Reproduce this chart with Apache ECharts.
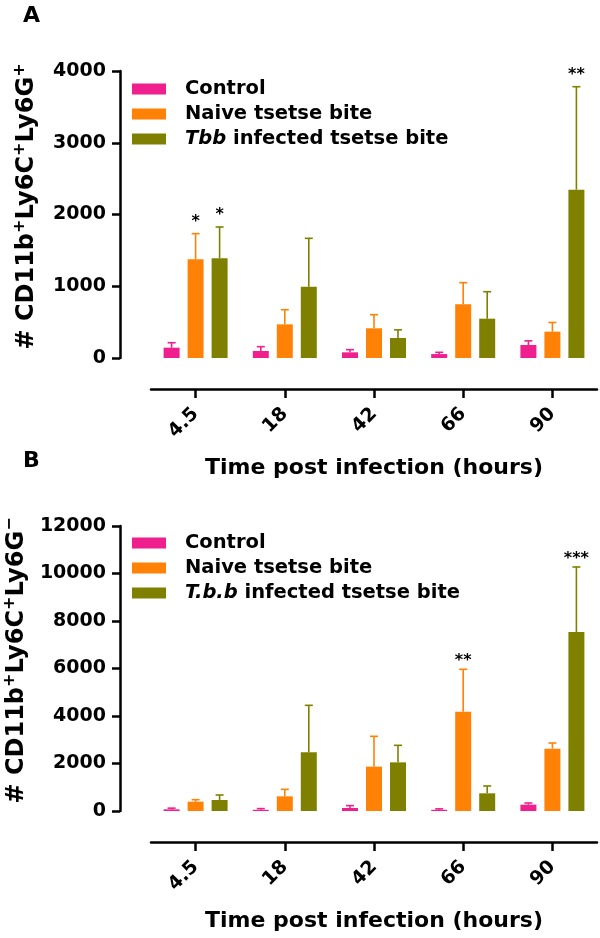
<!DOCTYPE html>
<html>
<head>
<meta charset="utf-8">
<script src="https://cdn.jsdelivr.net/npm/echarts@6/dist/echarts.min.js"></script>
<style>
  html, body { margin: 0; padding: 0; background: #fff; }
  #chart_container { width: 600px; height: 938px; }
</style>
</head>
<body>
<div id="chart_container"></div>
<script>
// categories
const hours = ['4.5', '18', '42', '66', '90']

// panel A: CD11b+Ly6C+Ly6G+
const ctrlA = [144, 98, 79, 55, 181]
const ctrlErrA = [69, 60, 37, 24, 58]
const naiveA = [1375, 469, 414, 748, 367]
const naiveErrA = [358, 204, 190, 302, 128]
const tbbA = [1390, 994, 279, 548, 2346]
const tbbErrA = [436, 674, 113, 376, 1435]
const starsCtrlA = ['', '', '', '', '']
const starsNaiveA = ['*', '', '', '', '']
const starsTbbA = ['*', '', '', '', '**']

// panel B: CD11b+Ly6C+Ly6G-
const ctrlB = [70, 50, 126, 50, 267]
const ctrlErrB = [50, 50, 100, 40, 70]
const naiveB = [393, 617, 1867, 4183, 2625]
const naiveErrB = [83, 295, 1277, 1783, 238]
const tbbB = [463, 2470, 2049, 744, 7537]
const tbbErrB = [211, 1979, 716, 309, 2737]
const starsCtrlB = ['', '', '', '', '']
const starsNaiveB = ['', '', '', '**', '']
const starsTbbB = ['', '', '', '', '***']

const namesA = ['Control', 'Naive tsetse bite', 'Tbb infected tsetse bite']
const namesB = ['Control', 'Naive tsetse bite', 'T.b.b infected tsetse bite']

const colors = ['#ef1f8e', '#ff8106', '#808000']
const FONT = 'DejaVu Sans'

document.addEventListener('DOMContentLoaded', buildChart)

//bar + error bar helpers
function makeBars(name, values, color, idx){
    return {
        name: name,
        type: 'bar',
        xAxisIndex: idx,
        yAxisIndex: idx,
        barWidth: 16,
        barGap: '50%',
        data: values,
        itemStyle: { color: color },
        z: 2
    }
}

function makeErr(values, errs, stars, color, idx, offset, starGap){
    let data = values.map((v, i) => [i, v, errs[i]])
    return {
        type: 'custom',
        xAxisIndex: idx,
        yAxisIndex: idx,
        z: 3,
        silent: true,
        data: data,
        renderItem: function(params, api){
            let i = api.value(0)
            let mean = api.value(1)
            let err = api.value(2)
            let base = api.coord([i, mean])
            let top = api.coord([i, mean + err])
            let x = base[0] + offset
            let children = [
                { type: 'line', shape: { x1: x, y1: base[1], x2: x, y2: top[1] },
                  style: { stroke: color, lineWidth: 1.6 } },
                { type: 'line', shape: { x1: x - 4, y1: top[1], x2: x + 4, y2: top[1] },
                  style: { stroke: color, lineWidth: 1.6 } }
            ]
            let s = stars[params.dataIndex]
            if (s){
                children.push({
                    type: 'text',
                    style: {
                        text: s, x: x, y: top[1] - starGap,
                        align: 'center', verticalAlign: 'bottom',
                        fontSize: 16, fontWeight: 'bold', fontFamily: FONT, fill: '#000'
                    }
                })
            }
            return { type: 'group', children: children }
        }
    }
}

function legendFormatter(name){
    if (name.indexOf('Tbb') === 0) return '{it|Tbb}{n| infected tsetse bite}'
    if (name.indexOf('T.b.b') === 0) return '{it|T.b.b}{n| infected tsetse bite}'
    return '{n|' + name + '}'
}

function makeLegend(names, top){
    return {
        data: names,
        orient: 'vertical',
        left: 127,
        top: top,
        icon: 'rect',
        itemWidth: 34,
        itemHeight: 11,
        itemGap: 5,
        selectedMode: false,
        formatter: legendFormatter,
        textStyle: {
            padding: [0, 0, 0, 14],
            rich: {
                n: { fontSize: 19.5, fontWeight: 'bold', fontFamily: FONT, color: '#000' },
                it: { fontSize: 19.5, fontWeight: 'bold', fontStyle: 'italic', fontFamily: FONT, color: '#000' }
            }
        }
    }
}

function makeXAxis(idx){
    return {
        type: 'category',
        gridIndex: idx,
        data: hours,
        offset: 31,
        name: 'Time post infection (hours)',
        nameLocation: 'middle',
        nameGap: 68,
        nameTextStyle: { fontSize: 22, fontWeight: 'bold', fontFamily: FONT, color: '#000' },
        axisLine: { onZero: false, lineStyle: { color: '#000', width: 2.5 } },
        axisTick: { show: true, alignWithLabel: true, length: 9, lineStyle: { color: '#000', width: 2.5 } },
        axisLabel: { rotate: 45, margin: 22, fontSize: 19, fontWeight: 'bold', fontFamily: FONT, color: '#000' },
        splitLine: { show: false }
    }
}

function makeYAxis(idx, max, interval, name){
    return {
        type: 'value',
        gridIndex: idx,
        min: 0,
        max: max,
        interval: interval,
        offset: 31,
        name: name,
        nameLocation: 'middle',
        nameGap: 78,
        nameTextStyle: {
            fontSize: 24, fontWeight: 'bold', fontFamily: FONT, color: '#000',
            padding: [0, 0, 0, 16],
            rich: {
                n: { fontSize: 24, fontWeight: 'bold', fontFamily: FONT, color: '#000', lineHeight: 30 },
                s: { fontSize: 16, fontWeight: 'bold', fontFamily: FONT, color: '#000', verticalAlign: 'top', lineHeight: 30 }
            }
        },
        axisLine: { show: true, onZero: false, lineStyle: { color: '#000', width: 2.5 } },
        axisTick: { show: true, length: 8, lineStyle: { color: '#000', width: 2.5 } },
        axisLabel: {
            margin: 14, fontSize: 19, fontWeight: 'bold', fontFamily: FONT, color: '#000',
            formatter: v => String(v)
        },
        splitLine: { show: false }
    }
}

function buildChart(){
    let chart_container = document.getElementById('chart_container')
    let chart = echarts.init(chart_container)

    let panelTitle = { fontSize: 22, fontWeight: 'bold', fontFamily: FONT, color: '#000' }
    let option = {
        animation: false,
        title: [
            { text: 'A', left: 23, top: 5, padding: 0, textStyle: panelTitle },
            { text: 'B', left: 23, top: 450, padding: 0, textStyle: panelTitle }
        ],
        legend: [ makeLegend(namesA, 74), makeLegend(namesB, 528) ],
        grid: [
            { left: 151, right: 3, top: 71, bottom: 580, outerBoundsMode: 'none' },
            { left: 151, right: 3, top: 526, bottom: 127, outerBoundsMode: 'none' }
        ],
        xAxis: [ makeXAxis(0), makeXAxis(1) ],
        yAxis: [
            makeYAxis(0, 4000, 1000, '{n|# CD11b}{s|+}{n|Ly6C}{s|+}{n|Ly6G}{s|+}'),
            makeYAxis(1, 12000, 2000, '{n|# CD11b}{s|+}{n|Ly6C}{s|+}{n|Ly6G}{s|\u2212}')
        ],
        series: [
            makeBars(namesA[0], ctrlA, colors[0], 0),
            makeBars(namesA[1], naiveA, colors[1], 0),
            makeBars(namesA[2], tbbA, colors[2], 0),
            makeErr(ctrlA, ctrlErrA, starsCtrlA, colors[0], 0, -24, 4),
            makeErr(naiveA, naiveErrA, starsNaiveA, colors[1], 0, 0, 4),
            makeErr(tbbA, tbbErrA, starsTbbA, colors[2], 0, 24, 4),

            makeBars(namesB[0], ctrlB, colors[0], 1),
            makeBars(namesB[1], naiveB, colors[1], 1),
            makeBars(namesB[2], tbbB, colors[2], 1),
            makeErr(ctrlB, ctrlErrB, starsCtrlB, colors[0], 1, -24, 0),
            makeErr(naiveB, naiveErrB, starsNaiveB, colors[1], 1, 0, 0),
            makeErr(tbbB, tbbErrB, starsTbbB, colors[2], 1, 24, 0)
        ]
    }

    if (chart){
        chart.setOption(option)
    } else {
        console.error('Echart instance failed to init')
    }
}
</script>
</body>
</html>
